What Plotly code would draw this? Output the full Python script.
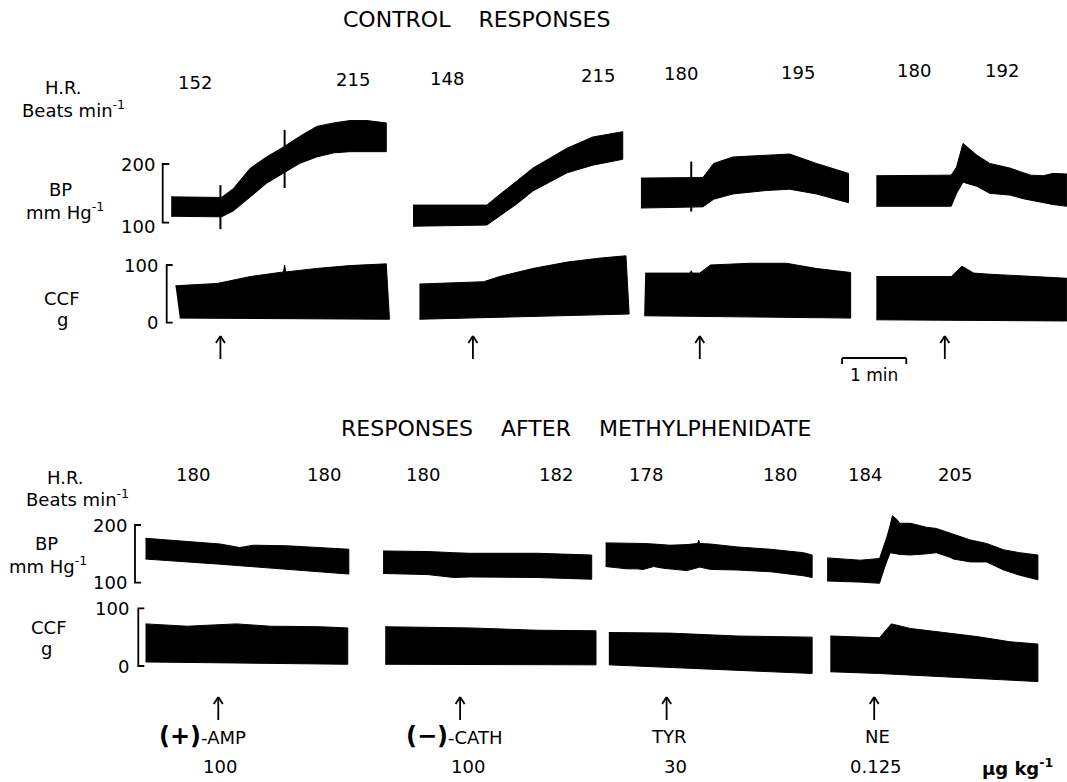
import plotly.graph_objects as go

W, H = 1067, 782
PX_PER_S = 1.07          # chart speed: 1 min ~ 64 px

# ------------------------------------------------------------------ DATA
# Time along the record in seconds; BP in mm Hg (upper / lower envelope); CCF in g.

# CONTROL RESPONSES ---------------------------------------------------
ctrl_bp_t = [
    [160, 207, 218, 234, 249, 265, 280, 296, 312, 327, 343, 361],
    [386, 455, 467, 477, 483, 498, 530, 554, 582],
    [599, 657, 667, 685, 717, 738, 763, 793],
    [819, 889, 894, 900, 913, 925, 944, 956, 963, 975, 984, 997],
]
ctrl_bp_hi = [
    [144, 143, 158, 193, 212, 229, 247, 264, 270, 274, 274, 270],
    [130, 130, 148, 162, 171, 193, 227, 246, 255],
    [176, 177, 201, 212, 215, 217, 201, 184],
    [180, 181, 195, 235, 215, 201, 193, 185, 181, 180, 184, 183],
]
ctrl_bp_lo = [
    [111, 110, 120, 144, 167, 185, 201, 212, 219, 221, 221, 221],
    [94, 96, 111, 124, 132, 154, 185, 198, 208],
    [125, 127, 140, 149, 155, 157, 149, 134],
    [128, 128, 150, 169, 162, 150, 147, 141, 139, 134, 131, 128],
]
ctrl_spike_t = [206, 266, 646]
ctrl_spike_hi = [164, 258, 204]
ctrl_spike_lo = [89, 159, 119]

ctrl_ccf_t = [
    [164, 203, 234, 265, 266, 267, 296, 327, 361],
    [392, 452, 467, 498, 530, 561, 585],
    [603, 645, 646, 647, 654, 664, 701, 735, 763, 795],
    [819, 889, 899, 910, 925, 965, 997],
]
ctrl_ccf_hi = [
    [64, 68, 80, 88, 100, 88, 94, 99, 102],
    [67, 71, 80, 94, 105, 112, 116],
    [86, 86, 90, 86, 86, 100, 103, 103, 94, 87],
    [80, 80, 98, 86, 84, 80, 77],
]
ctrl_ccf_base_t = [[168, 364], [392, 588], [602, 795], [819, 997]]
ctrl_ccf_base = [[8, 6], [6, 15], [12, 8], [5, 3]]

ctrl_inj_t = [206, 442, 654, 883]
ctrl_hr = ["152", "215", "148", "215", "180", "195", "180", "192"]

# RESPONSES AFTER METHYLPHENIDATE --------------------------------------
meth_bp_t = [
    [136, 175, 206, 224, 237, 268, 299, 326],
    [358, 400, 424, 439, 502, 553],
    [566, 586, 595, 601, 611, 620, 626, 642, 652, 653, 654, 664, 689, 720, 751, 759],
    [773, 804, 822, 827, 829, 832, 834, 838, 841, 851, 866, 875, 888, 891, 904, 907,
     922, 938, 953, 970],
]
meth_bp_hi = [
    [177, 171, 167, 161, 165, 164, 161, 158],
    [155, 154, 152, 151, 151, 148],
    [169, 169, 168, 168, 167, 166, 165, 166, 168, 174, 168, 167, 162, 158, 152, 148],
    [143, 139, 142, 168, 180, 200, 216, 210, 203, 203, 196, 194, 186, 184, 175, 174,
     168, 157, 152, 148],
]
meth_bp_lo = [
    [141, 136, 132, 130, 128, 124, 119, 115],
    [116, 114, 109, 110, 109, 106],
    [128, 124, 124, 123, 128, 125, 124, 121, 126, 127, 127, 123, 122, 119, 112, 109],
    [103, 101, 99, 128, 138, 152, 151, 150, 149, 148, 150, 152, 144, 141, 137, 136,
     136, 122, 113, 105],
]
meth_ccf_t = [
    [136, 175, 221, 252, 299, 325],
    [360, 439, 502, 557],
    [569, 626, 689, 759],
    [776, 822, 833, 851, 882, 913, 944, 970],
]
meth_ccf_hi = [
    [73, 69, 73, 69, 68, 66],
    [68, 66, 62, 61],
    [58, 57, 52, 50],
    [52, 49, 73, 65, 58, 51, 42, 38],
]
meth_ccf_base_t = [[136, 325], [360, 557], [569, 759], [776, 822, 970]]
meth_ccf_base = [[7, 3], [3, 2], [2, -13], [-10, -13, -27]]

meth_inj_t = [204, 430, 623, 817]
meth_hr = ["180", "180", "180", "182", "178", "180", "184", "205"]
meth_drugs = ["(+)-AMP", "(\u2212)-CATH", "TYR", "NE"]
meth_doses = ["100", "100", "30", "0.125"]
dose_unit = "\u03bcg kg<sup>-1</sup>"

bp_scale = [100, 200]     # mm Hg calibration bracket
ccf_scale = [0, 100]      # g calibration bracket
time_bar_s = 60           # 1 min
time_bar_start = 787

# ------------------------------------------------------------------ LAYOUT HELPERS
FONT = "DejaVu Sans"


def X(px):
    return px / W


def Y(py):
    return 1 - py / H


def t_of(px):
    return px / PX_PER_S


def yaxis_cfg(v_a, py_a, v_b, py_b, dom_top_px, dom_bot_px):
    slope = (py_b - py_a) / (v_b - v_a)

    def v_at(py):
        return v_a + (py - py_a) / slope
    return dict(domain=[Y(dom_bot_px), Y(dom_top_px)],
                range=[v_at(dom_bot_px), v_at(dom_top_px)],
                visible=False, fixedrange=True, anchor="x")


fig = go.Figure()


def band(t, hi, lo, yax):
    fig.add_trace(go.Scatter(
        x=list(t) + list(reversed(t)), y=list(hi) + list(reversed(lo)),
        mode="lines", fill="toself", fillcolor="black",
        line=dict(color="black", width=1), yaxis=yax,
        hoverinfo="skip", showlegend=False))


def line(xs, ys, yax, width=2):
    fig.add_trace(go.Scatter(x=xs, y=ys, mode="lines",
                             line=dict(color="black", width=width),
                             yaxis=yax, hoverinfo="skip", showlegend=False))


# ------------------------------------------------------------------ TRACES
for t, hi, lo in zip(ctrl_bp_t, ctrl_bp_hi, ctrl_bp_lo):
    band(t, hi, lo, "y")
for t, hi, lo in zip(ctrl_spike_t, ctrl_spike_hi, ctrl_spike_lo):
    line([t, t], [lo, hi], "y", 2)
for t, hi, bt, b in zip(ctrl_ccf_t, ctrl_ccf_hi, ctrl_ccf_base_t, ctrl_ccf_base):
    fig.add_trace(go.Scatter(
        x=list(t) + list(reversed(bt)), y=list(hi) + list(reversed(b)),
        mode="lines", fill="toself", fillcolor="black",
        line=dict(color="black", width=1), yaxis="y2",
        hoverinfo="skip", showlegend=False))

for t, hi, lo in zip(meth_bp_t, meth_bp_hi, meth_bp_lo):
    band(t, hi, lo, "y3")
for t, hi, bt, b in zip(meth_ccf_t, meth_ccf_hi, meth_ccf_base_t, meth_ccf_base):
    fig.add_trace(go.Scatter(
        x=list(t) + list(reversed(bt)), y=list(hi) + list(reversed(b)),
        mode="lines", fill="toself", fillcolor="black",
        line=dict(color="black", width=1), yaxis="y4",
        hoverinfo="skip", showlegend=False))

# calibration brackets
for bx_px, arm_px, vals, yax in [(162.7, 6.5, bp_scale, "y"), (166.7, 6, ccf_scale, "y2"),
                                 (135.0, 6, bp_scale, "y3"), (138.3, 6, ccf_scale, "y4")]:
    x0, x1 = t_of(bx_px), t_of(bx_px + arm_px)
    line([x1, x0, x0, x1], [vals[1], vals[1], vals[0], vals[0]], yax, 1.8)

# ------------------------------------------------------------------ TEXT
ann = []


def txt(text, px, py, size=18, xanchor="center", bold=False, xref="paper", yref="paper",
        x=None, y=None, yshift=0):
    if bold:
        text = "<b>" + text + "</b>"
    ann.append(dict(text=text, x=X(px) if x is None else x, y=Y(py) if y is None else y,
                    xref=xref, yref=yref, xanchor=xanchor, yanchor="middle",
                    showarrow=False, yshift=yshift,
                    font=dict(family=FONT, size=size, color="black")))


SP = "\u00a0" * 4
txt("CONTROL" + SP + "RESPONSES", 476, 19, size=22)
txt("RESPONSES" + SP + "AFTER" + SP + "METHYLPHENIDATE", 576, 428, size=22)

for (t, x, y) in [("H.R.", 63, 88), ("Beats min<sup>-1</sup>", 73, 109), ("BP", 60, 189),
                  ("mm Hg<sup>-1</sup>", 65, 211), ("CCF", 62, 298), ("g", 62, 320),
                  ("H.R.", 65, 477), ("Beats min<sup>-1</sup>", 77, 498), ("BP", 46, 543),
                  ("mm Hg<sup>-1</sup>", 48, 565), ("CCF", 49, 627), ("g", 46, 648)]:
    txt(t, x, y)

ctrl_hr_x = [195, 353, 447, 598, 681, 798, 914, 1002]
ctrl_hr_y = [82, 80, 78, 75, 74, 72, 71, 71]
for s, x, y in zip(ctrl_hr, ctrl_hr_x, ctrl_hr_y):
    txt(s, x, y)
meth_hr_x = [193, 324, 423, 556, 646, 780, 865, 955]
for s, x in zip(meth_hr, meth_hr_x):
    txt(s, x, 475)

# calibration numbers
for vals, yref, right_px, lower_shift in [(bp_scale, "y", 157, -4), (ccf_scale, "y2", 160, 0),
                                          (bp_scale, "y3", 129, 0), (ccf_scale, "y4", 131, 0)]:
    txt(str(vals[1]), right_px, 0, xanchor="right", yref=yref, y=vals[1])
    txt(str(vals[0]), right_px, 0, xanchor="right", yref=yref, y=vals[0], yshift=lower_shift)

# drugs / doses
drug_x = [202, 454, 669, 877]
dose_x = [220, 468, 675, 876]
for d, x in zip(meth_drugs, drug_x):
    if d.startswith("("):
        close = d.index(")")
        d = '<span style="font-size:24px"><b>' + d[:close + 1] + "</b></span>" + d[close + 1:]
    txt(d, x, 736)
for d, x in zip(meth_doses, dose_x):
    txt(d, x, 766)
txt(dose_unit, 1017, 767, bold=True)

# 1 min bar
txt("1 min", 874, 375, size=17)

# ------------------------------------------------------------------ SHAPES
shapes = []


def seg(x0, y0, x1, y1, w=1.8):
    shapes.append(dict(type="line", xref="x", yref="paper", x0=x0, x1=x1,
                       y0=Y(y0), y1=Y(y1), line=dict(color="black", width=w)))


def arrow(t, tip_py, bot_py):
    dx = t_of(4.5)
    seg(t, bot_py, t, tip_py)
    seg(t - dx, tip_py + 7, t, tip_py)
    seg(t + dx, tip_py + 7, t, tip_py)


for t in ctrl_inj_t:
    arrow(t, 336, 359)
for t in meth_inj_t:
    arrow(t, 697, 720)

tb0, tb1 = time_bar_start, time_bar_start + time_bar_s
seg(tb0, 358, tb1, 358)
seg(tb0, 358, tb0, 364)
seg(tb1, 358, tb1, 364)

fig.update_layout(
    width=W, height=H, margin=dict(l=0, r=0, t=0, b=0),
    paper_bgcolor="white", plot_bgcolor="white", showlegend=False,
    xaxis=dict(domain=[0, 1], range=[0, W / PX_PER_S], visible=False, fixedrange=True),
    yaxis=yaxis_cfg(100, 222.7, 200, 164.0, 105, 242),
    yaxis2=yaxis_cfg(0, 322.7, 100, 265.0, 248, 335),
    yaxis3=yaxis_cfg(100, 582.7, 200, 525.0, 500, 594),
    yaxis4=yaxis_cfg(0, 666.0, 100, 608.3, 598, 690),
    annotations=ann, shapes=shapes,
)

fig.write_html("out.html", config={"displayModeBar": False},
               post_script="document.body.style.margin='0';document.body.style.overflow='hidden';")
